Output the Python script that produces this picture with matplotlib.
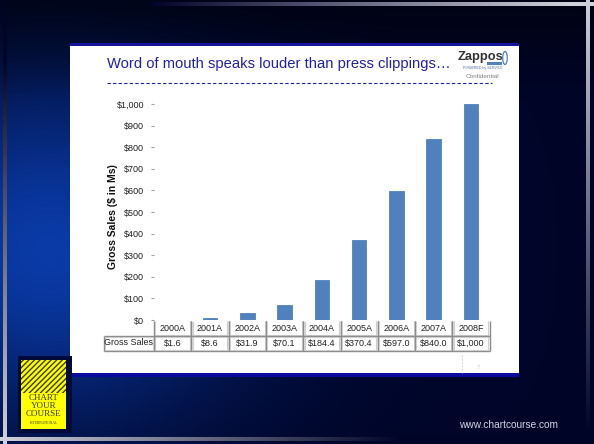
import numpy as np
import matplotlib.pyplot as plt
from matplotlib.patches import Rectangle, Ellipse

plt.rcParams['font.family'] = ['Liberation Sans', 'DejaVu Sans']

# data
years = ['2000A', '2001A', '2002A', '2003A', '2004A', '2005A', '2006A', '2007A', '2008F']
sales = [1.6, 8.6, 31.9, 70.1, 184.4, 370.4, 597.0, 840.0, 1000.0]
yticks = [0, 100, 200, 300, 400, 500, 600, 700, 800, 900, 1000]
row_label = 'Gross Sales'
title = 'Word of mouth speaks louder than press clippings\u2026'

W, H = 594, 444
fig = plt.figure(figsize=(W / 100, H / 100), dpi=100)

# slide background (dark blue, lighter to the left)
yy, xx = np.mgrid[0:H, 0:W].astype(float)
dark = np.array([0.0, 0.02, 0.16])
bright = np.array([0.04, 0.24, 0.68])
w = 0.95 * np.exp(-((xx - 50) / 200) ** 2 - ((yy - 250) / 170) ** 2)
img = dark + w[..., None] * (bright - dark)
img = img * (0.5 + 0.5 * np.clip((yy - 10) / 90, 0, 1))[..., None]
light = np.array([0.82, 0.82, 0.86])
t = np.clip((yy - 60) / 380, 0, 1)[..., None]
m = (xx >= 3) & (xx <= 6)
img[m] = (dark * (1 - t) + light * t)[m]
t = np.clip((xx - 150) / 420, 0, 1)[..., None]
m = (yy >= 3) & (yy <= 6) & (xx > 150)
img[m] = (dark * (1 - t) + light * t)[m]
t = np.clip(1 - yy / 430, 0, 1)[..., None]
m = (xx >= 586) & (xx <= 589)
img[m] = (dark * (1 - t) + light * t)[m]
t = np.clip(1 - xx / 400, 0, 1)[..., None]
m = (yy >= 437) & (yy <= 440)
img[m] = (dark * (1 - t) + light * t)[m]

bg = fig.add_axes([0, 0, 1, 1])
bg.imshow(np.clip(img, 0, 1), extent=(0, W, H, 0), aspect='auto', interpolation='bilinear')
bg.set_xlim(0, W)
bg.set_ylim(H, 0)
bg.axis('off')

# white slide panel
bg.add_patch(Rectangle((70, 43.5), 449, 333, facecolor='white', edgecolor='none'))
bg.add_patch(Rectangle((70, 43.5), 449, 3, facecolor='#1414a0', edgecolor='none'))
bg.add_patch(Rectangle((70, 373), 449, 4, facecolor='#0a0aa0', edgecolor='none'))

bg.text(107, 64, title, fontsize=10.6, color='#2020a8', va='center', ha='left')
bg.plot([107, 492], [83.5, 83.5], color='#2020a8', lw=0.8, dashes=(3, 2))

# zappos logo
bg.text(480.5, 57, 'Zappos', fontsize=9.3, fontweight='bold', color='#333333',
        ha='center', va='center')
bg.add_patch(Ellipse((505, 58), 4.5, 13, facecolor='none', edgecolor='#4f81bd', lw=0.9))
bg.add_patch(Rectangle((487, 62.5), 15, 3, facecolor='#4f81bd', edgecolor='none'))
bg.text(483, 67.5, 'POWERED by SERVICE', fontsize=2.6, color='#4f6fa0',
        ha='center', va='center')
bg.text(482, 76.5, 'Confidential', fontsize=4.6, color='#808080', ha='center', va='center')

# page number
bg.plot([462, 462], [355, 373], color='#c8c8c8', lw=0.6, dashes=(2, 2))
bg.text(478, 367, '7', fontsize=4, color='#c0c0c0', ha='center', va='center')

# chart your course logo
bg.add_patch(Rectangle((18, 356), 54, 77, facecolor='#000a3a', edgecolor='none'))
bg.add_patch(Rectangle((21, 360), 45, 69, facecolor='#ffff00', edgecolor='none'))
bg.add_patch(Rectangle((21, 360), 45, 33, facecolor='#ffff00', edgecolor='#3a3a10',
                       hatch='//////', lw=0))
for i, s in enumerate(['CHART', 'YOUR', 'COURSE']):
    bg.text(43.5, 398 + 8 * i, s, fontsize=6.5, family='Liberation Serif',
            color='#3a3a10', ha='center', va='center')
bg.text(43.5, 423, 'INTERNATIONAL', fontsize=2.6, family='Liberation Serif',
        color='#3a3a10', ha='center', va='center')

bg.text(509, 425, 'www.chartcourse.com', fontsize=7.3, color='#d4d4e4',
        ha='center', va='center')

# bar chart
x0, x1 = 154.0, 489.7
ax = fig.add_axes([x0 / W, (H - 320) / H, (x1 - x0) / W, 216 / H])
ax.bar(range(len(years)), sales, width=0.39, color='#4f81bd',
       edgecolor='#4f81bd', linewidth=0.6)
ax.set_xlim(-0.5, len(years) - 0.5)
ax.set_ylim(0, 1000)
ax.patch.set_alpha(0)
for s in ax.spines.values():
    s.set_visible(False)
ax.set_xticks([])
ax.set_yticks(yticks)
ax.set_yticklabels(['${:,}'.format(v) for v in yticks])
ax.tick_params(axis='y', direction='out', length=2.2, width=0.8, color='#a0a0a0',
               labelsize=6.5, labelcolor='#222222', pad=5)
ax.set_ylabel('Gross Sales ($ in Ms)', fontsize=7.5, fontweight='bold', color='#111111')
ax.yaxis.set_label_coords((118 - x0) / (x1 - x0), 0.48)

# data table under the bars
tx = fig.add_axes([x0 / W, (H - 351) / H, (x1 - x0) / W, 30 / H])
tx.set_xlim(-0.5, len(years) - 0.5)
tx.set_ylim(0, 2)
tx.axis('off')
left = -0.5 - (x0 - 103.5) / ((x1 - x0) / len(years))
dx, dy = 1.3 / 37.27, 1.3 / 15
edge_d, edge_l = '#8a8a8a', '#cfcfcf'

def cell(xa, xb, ya, yb, top=True):
    kw = dict(clip_on=False, solid_capstyle='butt')
    tx.plot([xa, xa], [ya, yb], color=edge_d, lw=1.0, **kw)
    tx.plot([xb, xb], [ya, yb], color=edge_d, lw=1.0, **kw)
    tx.plot([xa + dx, xa + dx], [ya + dy, yb - (dy if top else 0)], color=edge_l, lw=0.8, **kw)
    tx.plot([xb - dx, xb - dx], [ya + dy, yb - (dy if top else 0)], color=edge_l, lw=0.8, **kw)
    tx.plot([xa, xb], [ya, ya], color=edge_d, lw=1.0, **kw)
    tx.plot([xa + dx, xb - dx], [ya + dy, ya + dy], color=edge_l, lw=0.8, **kw)
    if top:
        tx.plot([xa, xb], [yb, yb], color=edge_d, lw=1.0, **kw)
        tx.plot([xa + dx, xb - dx], [yb - dy, yb - dy], color=edge_l, lw=0.8, **kw)

def fmt(v):
    return '${:,.0f}'.format(v) if v >= 1000 else '${:.1f}'.format(v)

for i, (yr, v) in enumerate(zip(years, sales)):
    cell(i - 0.5, i + 0.5, 1, 2, top=False)
    cell(i - 0.5, i + 0.5, 0, 1)
    tx.text(i, 1.5, yr, fontsize=6.5, color='#222222', ha='center', va='center')
    tx.text(i, 0.5, fmt(v), fontsize=6.5, color='#222222', ha='center', va='center')
cell(left, -0.5, 0, 1)
tx.text(left + 0.02, 0.58, row_label, fontsize=6.5, color='#222222', ha='left', va='center')

fig.savefig('out.png', dpi=100)
